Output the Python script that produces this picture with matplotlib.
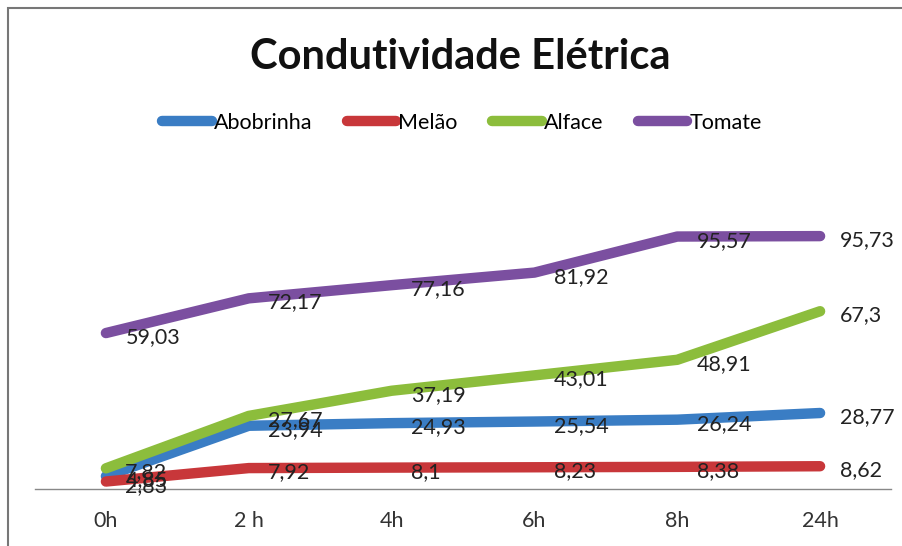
import numpy as np
import matplotlib.pyplot as plt
from matplotlib.patches import Rectangle

plt.rcParams['font.family'] = ['Lato', 'DejaVu Sans']

# data
categories = ['0h', '2 h', '4h', '6h', '8h', '24h']
abobrinha = [4.85, 23.94, 24.93, 25.54, 26.24, 28.77]
melao = [2.83, 7.92, 8.1, 8.23, 8.38, 8.62]
alface = [7.82, 27.67, 37.19, 43.01, 48.91, 67.3]
tomate = [59.03, 72.17, 77.16, 81.92, 95.57, 95.73]

series = [
    ('Abobrinha', abobrinha, '#3a7dc4'),
    ('Melão', melao, '#c8373a'),
    ('Alface', alface, '#8cbd3c'),
    ('Tomate', tomate, '#7b4fa0'),
]

fig = plt.figure(figsize=(9.02, 5.46), dpi=100)
ax = fig.add_axes([34.5 / 902, 1 - 489 / 546, 857 / 902, (489 - 172) / 546])

x = np.arange(len(categories))
for name, vals, col in series:
    ax.plot(x, vals, color=col, lw=7.5, solid_capstyle='round',
            solid_joinstyle='round', label=name)
    for xi, v in zip(x, vals):
        lbl = f'{v:g}'.replace('.', ',')
        ax.annotate(lbl, (xi, v), xytext=(14, -3), textcoords='offset points',
                    ha='left', va='center', fontsize=15.5, color='#222222')

ax.set_xlim(-0.5, len(categories) - 0.5)
ax.set_ylim(0, 120)
ax.set_xticks(x)
ax.set_xticklabels(categories, fontsize=15.5, color='#333333')
ax.tick_params(axis='x', length=0, pad=16)
ax.set_yticks([])
for s in ['top', 'right', 'left']:
    ax.spines[s].set_visible(False)
ax.spines['bottom'].set_color('#888888')
ax.spines['bottom'].set_linewidth(1)

fig.text(460 / 902, 1 - 57 / 546, 'Condutividade Elétrica', ha='center',
         va='center', fontsize=30, fontweight='bold', color='#111111')

leg = fig.legend(loc='center', bbox_to_anchor=(462 / 902, 1 - 123 / 546),
                 ncol=4, frameon=False, fontsize=15.5, handlelength=2.3,
                 handletextpad=0.1, columnspacing=1.6)
for h in leg.get_lines():
    h.set_linewidth(7.5)
    h.set_solid_capstyle('round')

# outer chart border (only top and left edges fall inside the image)
fig.patches.append(Rectangle((8 / 902, -0.1), 2, 1.1 - 8 / 546,
                             transform=fig.transFigure, fill=False,
                             edgecolor='#777777', lw=1.5))

fig.savefig('out.png', dpi=100)
